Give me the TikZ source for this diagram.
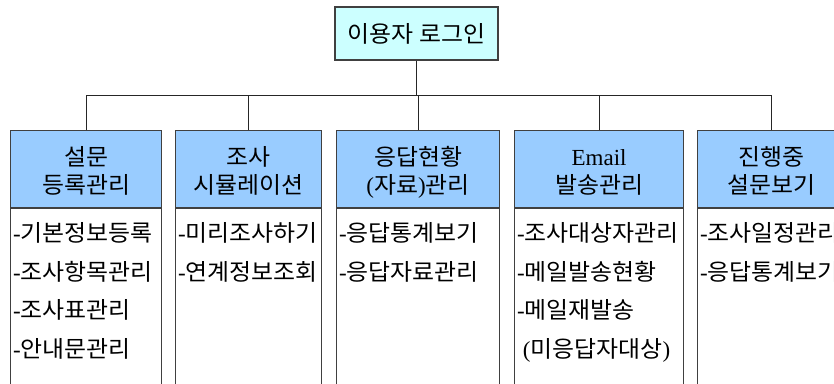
\documentclass[tikz,border=0pt]{standalone}
\usepackage{fontspec}
\setmainfont{Liberation Serif}
\newfontfamily\kr[FakeStretch=1.04]{Noto Sans CJK KR}
\definecolor{topfill}{HTML}{CCFFFF}
\definecolor{headfill}{HTML}{99CCFF}
\definecolor{edge}{HTML}{404040}
\tikzset{
  topbox/.style={draw=edge, line width=1.2pt, fill=topfill, minimum width=163pt, minimum height=53pt, inner sep=0pt, font=\kr\fontsize{23}{26}\selectfont},
  headbox/.style={draw=edge, line width=1.2pt, fill=headfill, minimum height=77pt, inner sep=0pt, anchor=north west},
  bodybox/.style={draw=edge, line width=1.2pt, minimum height=190pt, inner sep=0pt, anchor=north west},
  headtext/.style={align=center, font=\fontsize{23}{28}\selectfont, inner sep=0pt, anchor=base},
  listtext/.style={align=left, font=\fontsize{23}{38.5}\selectfont, inner sep=0pt, anchor=base west},
  conn/.style={draw=black!85, line width=1pt}
}
\begin{document}
\begin{tikzpicture}[x=1pt,y=-1pt]
\useasboundingbox (0,0) rectangle (834,383);
\clip (0,0) rectangle (834,383);
% top
\node[topbox] (top) at (416.5,33.5) {이용자 로그인};
% headers
\node[headbox, minimum width=151pt] (h1) at (10,130) {};
\node[headbox, minimum width=146pt] (h2) at (175,130) {};
\node[headbox, minimum width=163pt] (h3) at (336,130) {};
\node[headbox, minimum width=169pt] (h4) at (514,130) {};
\node[headbox, minimum width=148pt] (h5) at (697,130) {};
% bodies
\node[bodybox, minimum width=151pt] (b1) at (h1.south west) {};
\node[bodybox, minimum width=146pt] (b2) at (h2.south west) {};
\node[bodybox, minimum width=163pt] (b3) at (h3.south west) {};
\node[bodybox, minimum width=169pt] (b4) at (h4.south west) {};
\node[bodybox, minimum width=148pt] (b5) at (h5.south west) {};
% header texts (base = last line baseline)
\node[headtext] (t1) at (h1.center |- 0,193.5) {{\kr 설문}\\{\kr 등록관리}};
\node[headtext] (t2) at (h2.center |- 0,193.5) {{\kr 조사}\\{\kr 시뮬레이션}};
\node[headtext] (t3) at (h3.center |- 0,193.5) {{\kr 응답현황}\\({\kr 자료}){\kr 관리}};
\node[headtext] (t4) at (h4.center |- 0,193.5) {Email\\{\kr 발송관리}};
\node[headtext] (t5) at (h5.center |- 0,193.5) {{\kr 진행중}\\{\kr 설문보기}};
% list texts (base = last line baseline)
\node[listtext] (l1) at ([xshift=3pt]b1.north west |- 0,357) {-{\kr 기본정보등록}\\-{\kr 조사항목관리}\\-{\kr 조사표관리}\\-{\kr 안내문관리}};
\node[listtext] (l2) at ([xshift=3pt]b2.north west |- 0,280) {-{\kr 미리조사하기}\\-{\kr 연계정보조회}};
\node[listtext] (l3) at ([xshift=3pt]b3.north west |- 0,280) {-{\kr 응답통계보기}\\-{\kr 응답자료관리}};
\node[listtext] (l4) at ([xshift=3pt]b4.north west |- 0,357) {-{\kr 조사대상자관리}\\-{\kr 메일발송현황}\\-{\kr 메일재발송}\\\ ({\kr 미응답자대상})};
\node[listtext] (l5) at ([xshift=3pt]b5.north west |- 0,280) {-{\kr 조사일정관리}\\-{\kr 응답통계보기}};
% connectors
\coordinate (busL) at (h1.north |- 0,95);
\coordinate (busR) at (h5.north |- 0,95);
\draw[conn] (top.south) -- (top.south |- busL);
\draw[conn] (busL) -- (busR);
\foreach \i in {1,...,5} \draw[conn] (h\i.north) -- (h\i.north |- busL);
\end{tikzpicture}
\end{document}
